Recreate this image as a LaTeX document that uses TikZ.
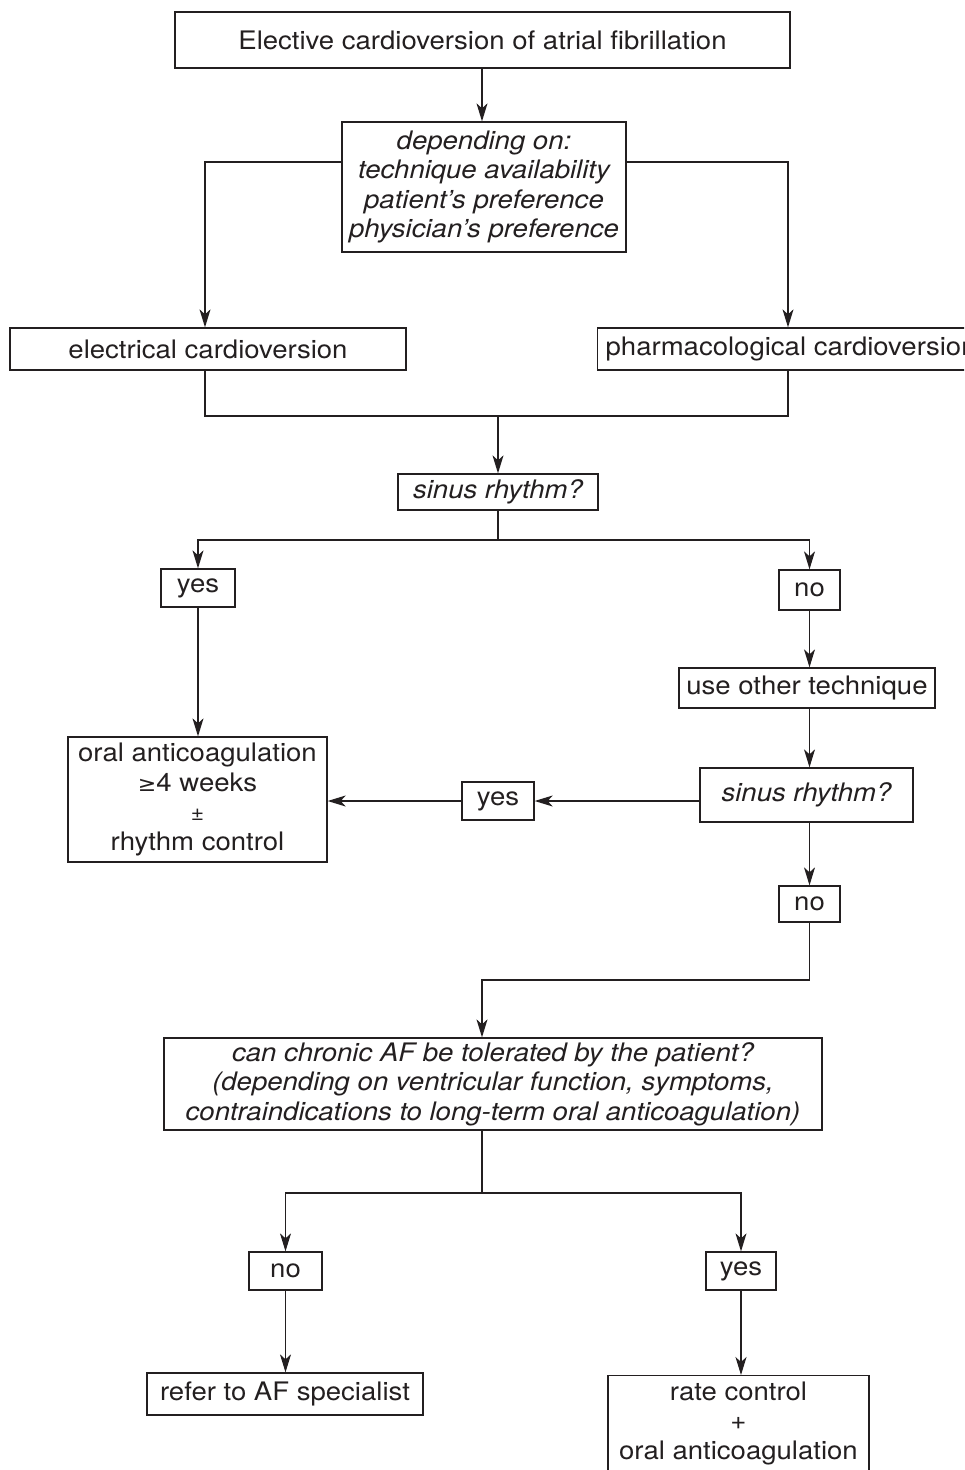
\documentclass[tikz,border=0pt]{standalone}
\usepackage{fontspec}
\setmainfont[FakeStretch=1.08]{TeX Gyre Heros}
\newfontfamily\symfont[FakeStretch=1.05]{DejaVu Sans}
\usetikzlibrary{arrows.meta,positioning}
\definecolor{ink}{HTML}{231F20}
\begin{document}
\begin{tikzpicture}[x=1pt,y=-1pt,
  every node/.style={font=\fontsize{25.5}{29.5}\selectfont, text=ink},
  box/.style={draw=ink, line width=1.3pt, align=center, inner sep=0pt, anchor=center},
  it/.style={font=\fontsize{25.5}{29.5}\selectfont\itshape},
  conn/.style={draw=ink, line width=1.3pt},
  arr/.style={conn, -{Stealth[length=18pt,width=11pt,inset=5pt]}}]
\useasboundingbox (0,0) rectangle (964,1470);
\clip (0,0) rectangle (964,1470);
\fill[white] (0,0) rectangle (964,1470);

\node[box, minimum width=615pt, minimum height=56pt] (b1) at (482.5,40) {Elective cardioversion of atrial fibrillation};
\node[box, it, minimum width=284pt, minimum height=130pt] (b2) at (484,187) {depending on:\\technique availability\\patient's preference\\physician's preference};
\node[box, minimum width=396pt, minimum height=42pt] (b3) at (208,349) {electrical cardioversion};
\node[box, anchor=west, minimum height=42pt, inner xsep=8pt] (b4) at (597,349) {pharmacological cardioversion};
\node[box, it, minimum width=200pt, minimum height=36pt] (s1) at (498,492) {sinus rhythm?};
\node[box, minimum width=74pt, minimum height=38pt] (y1) at (198,588) {yes};
\node[box, minimum width=61pt, minimum height=40pt] (n1) at (809.5,590) {no};
\node[box, minimum width=259pt, minimum height=125pt] (oac) at (197.5,799.5) {oral anticoagulation\\{\symfont\fontsize{21}{29.5}\selectfont ≥}4 weeks\\{\fontsize{21}{29.5}\selectfont ±}\\rhythm control};
\node[box, minimum width=256pt, minimum height=40pt] (use) at (807,688) {use other technique};
\node[box, it, minimum width=213pt, minimum height=54pt] (s2) at (806.5,795) {sinus rhythm?};
\node[box, minimum width=72pt, minimum height=38pt] (y2) at (498,801) {yes};
\node[box, minimum width=61pt, minimum height=36pt] (n2) at (809.5,904) {no};
\node[box, it, minimum width=658pt, minimum height=92pt] (big) at (493,1084) {can chronic AF be tolerated by the patient?\\(depending on ventricular function, symptoms,\\contraindications to long-term oral anticoagulation)};
\node[box, minimum width=73pt, minimum height=38pt] (n3) at (285.5,1271) {no};
\node[box, minimum width=70pt, minimum height=38pt] (y3) at (741,1271) {yes};
\node[box, minimum width=276pt, minimum height=42pt] (ref) at (285,1394) {refer to AF specialist};
\node[box, anchor=north, minimum width=261pt, minimum height=115pt] (rate) at (738.5,1375) {};
\node[align=center, anchor=north] (ratet) at (738.5,1378) {rate control\\+\\oral anticoagulation};

% top
\draw[arr] (b1.south -| 482,0) -- (b2.north -| 482,0);
\coordinate (jL) at (205,162);
\coordinate (jR) at (788,162);
\draw[arr] (b2.west |- jL) -- (jL) -- (jL |- b3.north);
\draw[arr] (b2.east |- jR) -- (jR) -- (jR |- b4.north);
% merge
\coordinate (mL) at (205,416);
\coordinate (mR) at (788,416);
\coordinate (mC) at (498,416);
\draw[conn] (mL |- b3.south) -- (mL) -- (mR) -- (mR |- b4.south);
\draw[arr] (mC) -- (s1.north);
% split after sinus 1
\coordinate (sC) at (498,540);
\coordinate (sL) at (198,540);
\coordinate (sR) at (809.5,540);
\draw[conn] (s1.south) -- (sC);
\draw[arr] (sC) -- (sL) -- (y1.north);
\draw[arr] (sC) -- (sR) -- (n1.north);
\draw[arr] (y1.south) -- (y1.south |- oac.north);
\draw[arr] (n1.south) -- (n1.south |- use.north);
\draw[arr] (use.south -| n1.south) -- (n1.south |- s2.north);
\draw[arr] (s2.west |- y2.east) -- (y2.east);
\draw[arr] (y2.west) -- (oac.east |- y2.west);
\draw[arr] (s2.south -| n2.north) -- (n2.north);
% to big box
\coordinate (bR) at (809.5,980);
\coordinate (bL) at (482,980);
\draw[arr] (n2.south) -- (bR) -- (bL) -- (bL |- big.north);
% split after big
\coordinate (tC) at (482,1193);
\coordinate (tL) at (285.5,1193);
\coordinate (tR) at (741,1193);
\draw[conn] (tC |- big.south) -- (tC);
\draw[arr] (tC) -- (tL) -- (n3.north);
\draw[arr] (tC) -- (tR) -- (y3.north);
\draw[arr] (n3.south) -- (n3.south |- ref.north);
\draw[arr] (y3.south) -- (y3.south |- rate.north);
\end{tikzpicture}
\end{document}
